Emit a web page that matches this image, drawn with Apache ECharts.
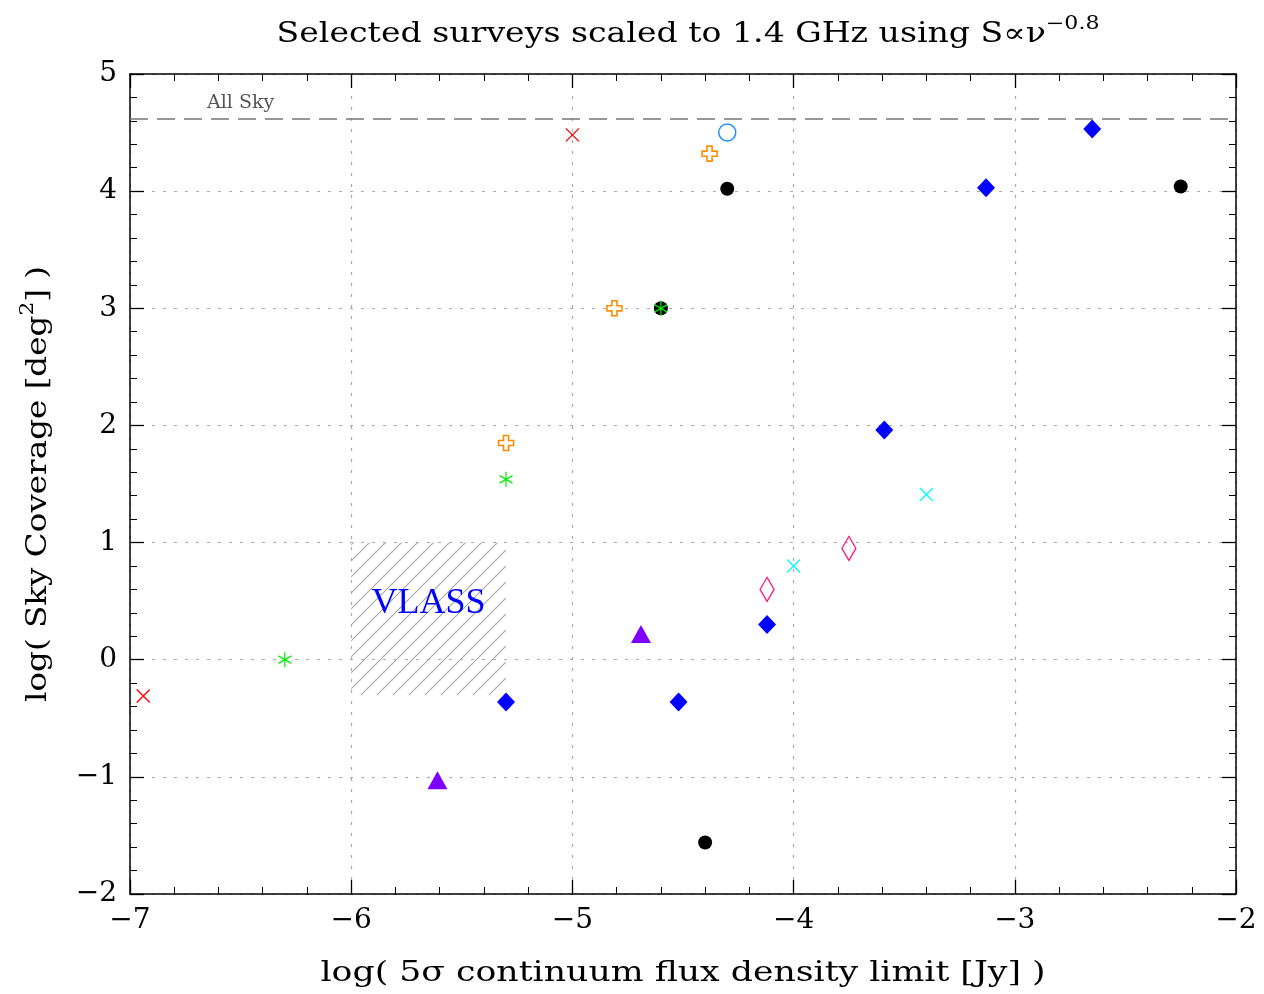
<!DOCTYPE html>
<html><head><meta charset="utf-8">
<script src="https://cdn.jsdelivr.net/npm/echarts@6/dist/echarts.min.js"></script>
<style>html,body{margin:0;padding:0;background:#fff}#c{width:1264px;height:994px}</style>
</head><body><div id="c"></div>
<script>
// ---- data ----
const xRange = [-7, -2];
const yRange = [-2, 5];
const redX = [[-5.0, 4.48], [-6.94, -0.31]];
const blueCircle = [[-4.30, 4.50]];
const orangePlus = [[-4.38, 4.32], [-4.81, 3.0], [-5.30, 1.85]];
const blackDot = [[-4.30, 4.02], [-2.25, 4.04], [-4.40, -1.56], [-4.60, 3.0]];
const greenAst = [[-4.60, 3.0], [-5.30, 1.54], [-6.30, 0.0]];
const blueDiamond = [[-2.65, 4.53], [-3.13, 4.03], [-3.59, 1.96], [-4.12, 0.30], [-4.52, -0.36], [-5.30, -0.36]];
const purpleTri = [[-4.69, 0.22], [-5.61, -1.03]];
const cyanX = [[-3.40, 1.41], [-4.00, 0.80]];
const pinkDiamond = [[-3.75, 0.95], [-4.12, 0.60]];
const allSkyLevel = 4.6155;
const allSkyLabel = [-6.50, 4.75];
const vlassBox = [[-6.0, -0.3], [-5.3, 1.0]];
const vlassLabel = [-5.65, 0.48];

const titleMain = 'Selected surveys scaled to 1.4 GHz using S\u221d\u03bd';
const titleSup = '\u22120.8';
const xName = 'log( 5\u03c3 continuum flux density limit [Jy] )';
const yNameA = 'log( Sky Coverage [deg';
const yNameSup = '2';
const yNameB = '] )';

const SERIF = '"DejaVu Serif", serif';
const FS = 27;
const FSUP = 18;

// measure text to stretch the wide plotting font
const mctx = document.createElement('canvas').getContext('2d');
function textW(t, size) { mctx.font = size + 'px "DejaVu Serif"'; return mctx.measureText(t).width; }

// hatch pattern
const pc = document.createElement('canvas');
pc.width = 16; pc.height = 16;
const g = pc.getContext('2d');
g.strokeStyle = '#aaaaaa'; g.lineWidth = 1.2;
g.beginPath();
g.moveTo(0, 16); g.lineTo(16, 0);
g.moveTo(-4, 4); g.lineTo(4, -4);
g.moveTo(12, 20); g.lineTo(20, 12);
g.stroke();

const minus = v => String(v).replace('-', '\u2212');

function axisBase(range, pos, showLabel, showSplit) {
  return {
    type: 'value', min: range[0], max: range[1], interval: 1, position: pos,
    axisLine: { show: true, onZero: false, lineStyle: { color: '#000', width: 1.5 } },
    axisTick: { show: true, inside: true, length: 14, lineStyle: { color: '#000', width: 1.3 } },
    minorTick: { show: true, splitNumber: 5, length: 7, lineStyle: { color: '#000', width: 1 } },
    axisLabel: { show: showLabel, formatter: minus, fontFamily: SERIF, fontSize: 28, color: '#000', margin: 13 },
    splitLine: { show: showSplit, lineStyle: { color: '#aaaaaa', type: [3, 8], width: 1.2 } },
    minorSplitLine: { show: false }
  };
}

const richStyles = {
  m: { fontFamily: SERIF, fontSize: FS, fill: '#000', lineHeight: 40, verticalAlign: 'middle' },
  s: { fontFamily: SERIF, fontSize: FSUP, fill: '#000', lineHeight: 18, verticalAlign: 'top' }
};

const titleScale = 823 / (textW(titleMain, FS) + textW(titleSup, FSUP));
const xNameScale = 725 / textW(xName, FS);
const yNameScale = 436 / (textW(yNameA, FS) + textW(yNameSup, FSUP) + textW(yNameB, FS));

const lineSym = (color) => ({ color: 'rgba(0,0,0,0)', borderColor: color, borderWidth: 1.3, opacity: 1 });

const option = {
  backgroundColor: '#fff',
  animation: false,
  grid: { left: 130, right: 28, top: 74, bottom: 100, containLabel: false },
  xAxis: [axisBase(xRange, 'bottom', true, true), axisBase(xRange, 'top', false, false)],
  yAxis: [axisBase(yRange, 'left', true, true), axisBase(yRange, 'right', false, false)],
  graphic: [
    {
      type: 'text', x: 688, y: 35, scaleX: titleScale, silent: true,
      style: { text: '{m|' + titleMain + '}{s|' + titleSup + '}', rich: richStyles, align: 'center', verticalAlign: 'middle', fill: '#000' }
    },
    {
      type: 'text', x: 683, y: 974, scaleX: xNameScale, silent: true,
      style: { text: xName, fontFamily: SERIF, fontSize: FS, align: 'center', verticalAlign: 'middle', fill: '#000' }
    },
    {
      type: 'text', x: 39, y: 484, rotation: Math.PI / 2, scaleX: yNameScale, silent: true,
      style: { text: '{m|' + yNameA + '}{s|' + yNameSup + '}{m|' + yNameB + '}', rich: richStyles, align: 'center', verticalAlign: 'middle', fill: '#000' }
    }
  ],
  series: [
    {
      type: 'scatter', data: [], silent: true,
      markArea: {
        silent: true,
        itemStyle: { color: { image: pc, repeat: 'repeat' }, borderWidth: 0, opacity: 1 },
        data: [[{ coord: vlassBox[0] }, { coord: vlassBox[1] }]]
      },
      markLine: {
        silent: true, symbol: 'none',
        lineStyle: { color: '#777', type: [18, 9], width: 1.7 },
        label: { show: false },
        data: [{ yAxis: allSkyLevel }]
      }
    },
    {
      type: 'scatter', data: [vlassLabel], symbolSize: 0, silent: true, itemStyle: { opacity: 1 },
      label: { show: true, position: 'inside', formatter: 'VLASS', fontFamily: '"Liberation Serif", serif', fontSize: 36, color: '#0000ff', opacity: 1 }
    },
    {
      type: 'scatter', data: [allSkyLabel], symbolSize: 0, silent: true, itemStyle: { opacity: 1 },
      label: { show: true, position: 'inside', formatter: 'All Sky', fontFamily: SERIF, fontSize: 19, color: '#555', opacity: 1 }
    },
    { type: 'scatter', data: redX, symbol: 'path://M0,0L10,10M10,0L0,10', symbolSize: 13, itemStyle: lineSym('#ff0000') },
    { type: 'scatter', data: blueCircle, symbol: 'circle', symbolSize: 17, itemStyle: { color: 'rgba(0,0,0,0)', borderColor: '#1e90ff', borderWidth: 1.5, opacity: 1 } },
    { type: 'scatter', data: orangePlus, symbol: 'path://M3.3,0H6.7V3.3H10V6.7H6.7V10H3.3V6.7H0V3.3H3.3Z', symbolSize: 15, itemStyle: { color: '#fff', borderColor: '#ff8c00', borderWidth: 1.6, opacity: 1 } },
    { type: 'scatter', data: blackDot, symbol: 'circle', symbolSize: 14, itemStyle: { color: '#000', opacity: 1 } },
    { type: 'scatter', data: greenAst, symbol: 'path://M5,0L5,10M0.67,2.5L9.33,7.5M0.67,7.5L9.33,2.5', symbolSize: [13, 15], itemStyle: lineSym('#00ee00') },
    { type: 'scatter', data: blueDiamond, symbol: 'diamond', symbolSize: [18, 19], itemStyle: { color: '#0000ff', opacity: 1 } },
    { type: 'scatter', data: purpleTri, symbol: 'triangle', symbolSize: [20, 18], itemStyle: { color: '#8000ff', opacity: 1 } },
    { type: 'scatter', data: cyanX, symbol: 'path://M0,0L10,10M10,0L0,10', symbolSize: 13, itemStyle: lineSym('#00ffff') },
    { type: 'scatter', data: pinkDiamond, symbol: 'diamond', symbolSize: [14, 24], itemStyle: { color: 'rgba(0,0,0,0)', borderColor: '#ff1a75', borderWidth: 1.4, opacity: 1 } }
  ]
};

const chart = echarts.init(document.getElementById('c'), null, { renderer: 'canvas' });
chart.setOption(option);
</script>
</body></html>
